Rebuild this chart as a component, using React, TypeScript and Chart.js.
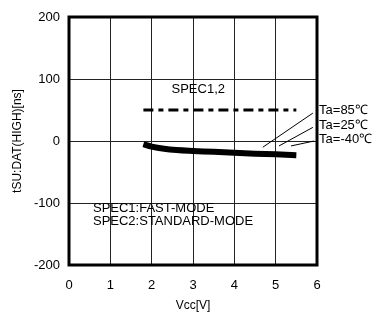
import React, { useEffect, useRef } from "react";
import { Chart, registerables } from "chart.js";

Chart.register(...registerables);

const vcc = [1.8, 2, 2.3, 2.6, 3, 3.5, 4, 4.5, 5, 5.5];
const tsu = [-5, -9, -12.5, -14.5, -16, -17.5, -19, -20.5, -21.5, -23];
const specX = [1.8, 5.5];
const specY = [50, 50];
const xTicks = [0, 1, 2, 3, 4, 5, 6];
const yTicks = [-200, -100, 0, 100, 200];
const tempLabels = ["Ta=85℃", "Ta=25℃", "Ta=-40℃"];
const tempLabelY = [50, 25, 2];
const leaderFrom = [[5.9, 45], [5.9, 22], [5.93, 0]];
const leaderTo = [[4.69, -10], [5.08, -8], [5.37, -8]];

const FONT = "'Liberation Sans', Arial, sans-serif";

const annot = {
  id: "annot",
  afterDraw(chart: any) {
    const { ctx, chartArea, scales } = chart;
    const x = scales.x, y = scales.y;
    ctx.save();
    ctx.strokeStyle = "#000";
    ctx.lineWidth = 3;
    ctx.strokeRect(chartArea.left, chartArea.top, chartArea.right - chartArea.left, chartArea.bottom - chartArea.top);
    ctx.fillStyle = "#000";
    ctx.font = "13px " + FONT;
    ctx.textBaseline = "middle";
    ctx.textAlign = "left";
    ctx.fillText("SPEC1,2", x.getPixelForValue(2.48), y.getPixelForValue(83));
    ctx.fillText("SPEC1:FAST-MODE", x.getPixelForValue(0.58), y.getPixelForValue(-108));
    ctx.fillText("SPEC2:STANDARD-MODE", x.getPixelForValue(0.58), y.getPixelForValue(-129));
    tempLabels.forEach((t, i) => {
      ctx.fillText(t, x.getPixelForValue(6.05), y.getPixelForValue(tempLabelY[i]));
    });
    ctx.lineWidth = 1;
    leaderFrom.forEach((f, i) => {
      const to = leaderTo[i];
      ctx.beginPath();
      ctx.moveTo(x.getPixelForValue(f[0]), y.getPixelForValue(f[1]));
      ctx.lineTo(x.getPixelForValue(to[0]), y.getPixelForValue(to[1]));
      ctx.stroke();
    });
    ctx.restore();
  },
};

export default function App() {
  const ref = useRef<HTMLCanvasElement>(null);
  useEffect(() => {
    document.body.style.margin = "0";
    const chart = new Chart(ref.current!, {
      type: "line",
      data: {
        datasets: [
          {
            data: vcc.map((v, i) => ({ x: v, y: tsu[i] })),
            borderColor: "#000",
            borderWidth: 6,
            pointRadius: 0,
            tension: 0.4,
            borderCapStyle: "butt",
          },
          {
            data: specX.map((v, i) => ({ x: v, y: specY[i] })),
            borderColor: "#000",
            borderWidth: 3,
            pointRadius: 0,
            borderDash: [10, 5, 5, 5],
          },
        ],
      },
      options: {
        animation: false,
        responsive: false,
        layout: { padding: { top: 17, right: 68, left: 0, bottom: 0 } },
        plugins: { legend: { display: false }, tooltip: { enabled: false } },
        scales: {
          x: {
            type: "linear",
            min: 0,
            max: 6,
            afterBuildTicks: (s: any) => { s.ticks = xTicks.map((v) => ({ value: v })); },
            afterFit: (s: any) => { s.height = 48; },
            grid: { color: "#222", lineWidth: 1, drawTicks: false },
            border: { display: false },
            ticks: { color: "#000", font: { size: 13, family: FONT }, padding: 13 },
            title: { display: true, text: "Vcc[V]", color: "#000", font: { size: 12, family: FONT }, padding: { top: 4, bottom: 0 } },
          },
          y: {
            min: -200,
            max: 200,
            afterBuildTicks: (s: any) => { s.ticks = yTicks.map((v) => ({ value: v })); },
            afterFit: (s: any) => { s.width = 69; },
            grid: { color: "#222", lineWidth: 1, drawTicks: false },
            border: { display: false },
            ticks: { color: "#000", font: { size: 13, family: FONT }, padding: 9 },
            title: { display: true, text: "tSU:DAT(HIGH)[ns]", color: "#000", font: { size: 12, family: FONT }, padding: { top: 10, bottom: 0 } },
          },
        },
      } as any,
      plugins: [annot],
    });
    return () => chart.destroy();
  }, []);
  return (
    <div style={{ position: "absolute", left: 0, top: 0, width: 385, height: 313, background: "#fff" }}>
      <canvas ref={ref} width={385} height={313} />
    </div>
  );
}
